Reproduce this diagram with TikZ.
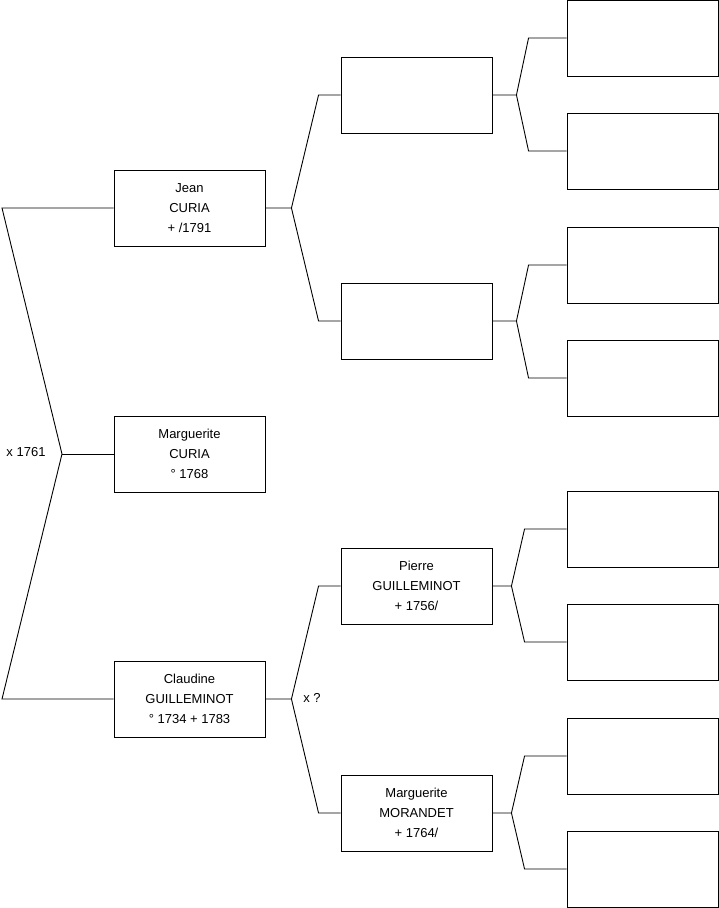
\documentclass[tikz,border=0pt]{standalone}
\usepackage{fontspec}
\setmainfont{Liberation Sans}
\begin{document}
\begin{tikzpicture}[x=1pt,y=-1pt,
  person/.style={draw=black,line width=0.9pt,minimum width=151pt,minimum height=76pt,
    inner sep=0pt,align=center,font=\fontsize{13}{20}\selectfont,fill=white},
  link/.style={draw=black,line width=0.9pt},
  lbl/.style={font=\fontsize{13}{16}\selectfont,inner sep=0pt}]
\useasboundingbox (0,0) rectangle (719,908);
% generation 1
\node[person] (g1a) at (189.5,208) {Jean\\CURIA\\+ /1791};
\node[person] (g1b) at (189.5,454) {Marguerite\\CURIA\\° 1768};
\node[person] (g1c) at (189.5,699) {Claudine\\GUILLEMINOT\\° 1734 + 1783};
% generation 2
\node[person] (g2a) at (416.5,95) {};
\node[person] (g2b) at (416.5,321) {};
\node[person] (g2c) at (416.5,586) {Pierre\\GUILLEMINOT\\+ 1756/};
\node[person] (g2d) at (416.5,813) {Marguerite\\MORANDET\\+ 1764/};
% generation 3
\node[person] (g3a) at (642.5,38) {};
\node[person] (g3b) at (642.5,151) {};
\node[person] (g3c) at (642.5,265) {};
\node[person] (g3d) at (642.5,378) {};
\node[person] (g3e) at (642.5,529) {};
\node[person] (g3f) at (642.5,642) {};
\node[person] (g3g) at (642.5,756) {};
\node[person] (g3h) at (642.5,869) {};
% left bracket
\coordinate (k0a) at (2,208);
\coordinate (v0) at (62,454);
\coordinate (k0c) at (2,699);
\draw[link] (g1a.west) -- (k0a) -- (v0) -- (k0c) -- (g1c.west);
\draw[link] (v0) -- (g1b.west);
\node[lbl] (m0) at (26,452) {x 1761};
% gen1 -> gen2
\draw[link] (g1a.east) -- ([xshift=26pt]g1a.east) coordinate (v1)
  -- ([xshift=-22pt]g2a.west) -- (g2a.west);
\draw[link] (v1) -- ([xshift=-22pt]g2b.west) -- (g2b.west);
\draw[link] (g1c.east) -- ([xshift=26pt]g1c.east) coordinate (v2)
  -- ([xshift=-22pt]g2c.west) -- (g2c.west);
\draw[link] (v2) -- ([xshift=-22pt]g2d.west) -- (g2d.west);
\node[lbl] (m2) at (312,698) {x ?};
% gen2 -> gen3
\draw[link] (g2a.east) -- ([xshift=24pt]g2a.east) coordinate (w1)
  -- ([xshift=-38pt]g3a.west) -- (g3a.west);
\draw[link] (w1) -- ([xshift=-38pt]g3b.west) -- (g3b.west);
\draw[link] (g2b.east) -- ([xshift=24pt]g2b.east) coordinate (w2)
  -- ([xshift=-38pt]g3c.west) -- (g3c.west);
\draw[link] (w2) -- ([xshift=-38pt]g3d.west) -- (g3d.west);
\draw[link] (g2c.east) -- ([xshift=19pt]g2c.east) coordinate (w3)
  -- ([xshift=-42pt]g3e.west) -- (g3e.west);
\draw[link] (w3) -- ([xshift=-42pt]g3f.west) -- (g3f.west);
\draw[link] (g2d.east) -- ([xshift=19pt]g2d.east) coordinate (w4)
  -- ([xshift=-42pt]g3g.west) -- (g3g.west);
\draw[link] (w4) -- ([xshift=-42pt]g3h.west) -- (g3h.west);
\end{tikzpicture}
\end{document}
